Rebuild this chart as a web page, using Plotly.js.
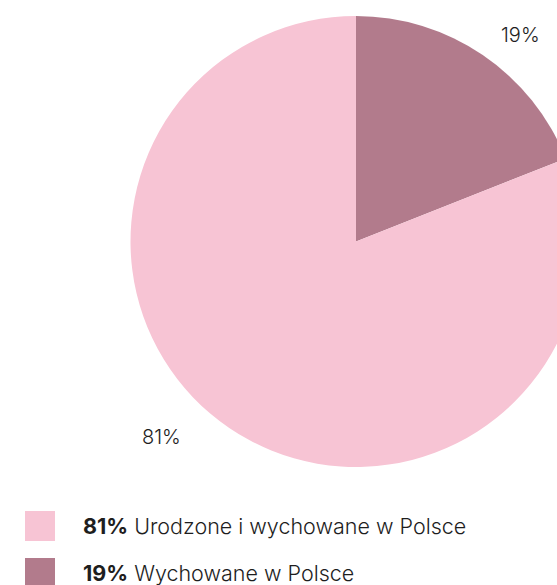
<!DOCTYPE html>
<html>
<head>
<meta charset="utf-8">
<script src="https://cdn.plot.ly/plotly-3.0.1.min.js"></script>
<style>
html,body{margin:0;padding:0;overflow:hidden;background:#fff;width:557px;height:585px;}
#chart{width:712px;height:585px;}
</style>
</head>
<body>
<div id="chart"></div>
<script>
const labels = ['Urodzone i wychowane w Polsce', 'Wychowane w Polsce'];
const values = [81, 19];
const sliceColors = ['#f7c4d4', '#b27b8c'];

const W = 712, H = 585;
const px = x => x / W;
const py = y => 1 - y / H;

const fontFam = 'Inter, "Open Sans", sans-serif';
const textColor = '#1e1e1e';

// label positions (outside labels)
const labelPos = [[161, 437], [520, 35]];
const legendRows = [526, 573];

const annotations = [];
const shapes = [];
values.forEach((v, i) => {
  annotations.push({
    xref: 'paper', yref: 'paper',
    x: px(labelPos[i][0]), y: py(labelPos[i][1]),
    xanchor: 'center', yanchor: 'middle',
    text: v + '%', showarrow: false,
    font: {family: fontFam, size: 20, color: textColor, weight: 300}
  });
  const cy = legendRows[i];
  shapes.push({
    type: 'rect', xref: 'paper', yref: 'paper',
    x0: px(25), x1: px(55), y0: py(cy - 15), y1: py(cy + 15),
    fillcolor: sliceColors[i], line: {width: 0}
  });
  annotations.push({
    xref: 'paper', yref: 'paper',
    x: px(81), y: py(cy),
    xanchor: 'left', yanchor: 'middle',
    text: '<b>' + v + '%</b> ' + labels[i], showarrow: false,
    font: {family: fontFam, size: 21.5, color: textColor, weight: 300}
  });
});

// pie drawn clockwise from 12 o'clock, smaller share first
const pieOrder = [1, 0];
const data = [{
  type: 'pie',
  labels: pieOrder.map(i => labels[i]),
  values: pieOrder.map(i => values[i]),
  sort: false,
  direction: 'clockwise',
  rotation: 0,
  marker: {colors: pieOrder.map(i => sliceColors[i]), line: {width: 0}},
  textinfo: 'none',
  hoverinfo: 'label+percent',
  domain: {x: [0, 1], y: [py(467), py(16)]}
}];

const layout = {
  width: W, height: H,
  margin: {l: 0, r: 0, t: 0, b: 0},
  showlegend: false,
  paper_bgcolor: '#ffffff',
  annotations: annotations,
  shapes: shapes
};

Plotly.newPlot('chart', data, layout, {displayModeBar: false, staticPlot: true});
</script>
</body>
</html>
